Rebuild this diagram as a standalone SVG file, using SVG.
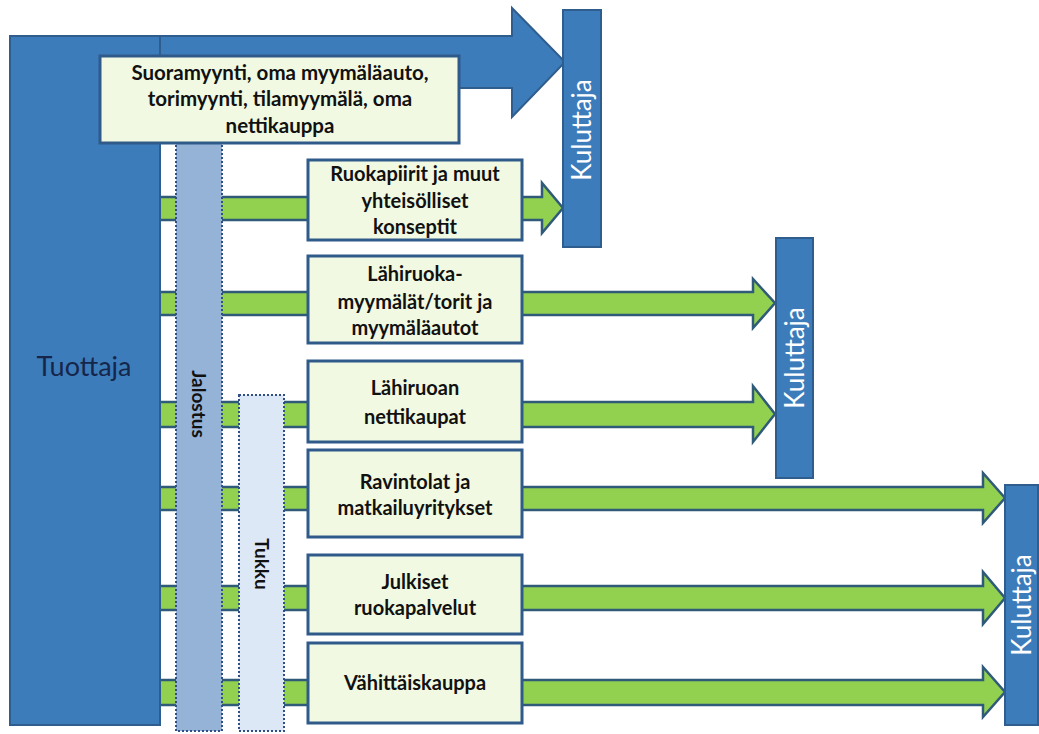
<svg xmlns="http://www.w3.org/2000/svg" width="1039" height="734" viewBox="0 0 1039 734">
<style>
.blue{fill:#3d7cbb;stroke:#2f5e8e;stroke-width:2}
.garrow{fill:#92d050;stroke:#2f5a78;stroke-width:2.5;stroke-linejoin:miter}
.box{fill:#f1f9e2;stroke:#2f5a8a;stroke-width:3}
.bar{stroke:#2f4f86;stroke-width:2;stroke-dasharray:2 2}
.bt{font-family:Lato,"Liberation Sans",sans-serif;font-weight:bold;font-size:20px;fill:#111;text-anchor:middle}
.kt{font-family:Lato,"Liberation Sans",sans-serif;font-size:26px;fill:#fff;text-anchor:middle}
</style>
<rect width="1039" height="734" fill="#fff"/>
<g id="connectors">
<polygon class="blue" points="150,36 512,36 512,8 565,62 512,117 512,88 150,88"/>
<polygon class="garrow" points="150,197 542,197 542,183 563,208 542,233 542,220 150,220"/>
<polygon class="garrow" points="150,292 753,292 753,279 775,303 753,328 753,315 150,315"/>
<polygon class="garrow" points="150,402 753,402 753,386 775,414 753,442 753,427 150,427"/>
<polygon class="garrow" points="150,487 983,487 983,473 1005,498 983,523 983,510 150,510"/>
<polygon class="garrow" points="150,586 983,586 983,572 1005,598 983,624 983,610 150,610"/>
<polygon class="garrow" points="150,680 983,680 983,667 1005,692 983,717 983,705 150,705"/>
</g>
<g id="tuottaja">
<rect class="blue" x="10" y="36" width="150" height="689"/>
<text x="84" y="376" style="font-family:Lato,'Liberation Sans',sans-serif;font-size:27px;fill:#15264a;text-anchor:middle">Tuottaja</text>
</g>
<g id="jalostus">
<rect class="bar" x="176" y="143" width="46" height="588" fill="#95b3d7"/>
<text class="bt" transform="translate(192,404) rotate(90)" style="font-size:19px">Jalostus</text>
</g>
<g id="tukku">
<rect class="bar" x="239" y="395" width="45" height="336" fill="#dce8f6"/>
<text class="bt" transform="translate(255,564) rotate(90)" style="font-size:19px">Tukku</text>
</g>
<g id="suoramyynti">
<rect class="box" x="100" y="56" width="359" height="87"/>
<text class="bt" style="font-size:20.5px"><tspan x="280" y="80">Suoramyynti, oma myymäläauto,</tspan><tspan x="280" y="106">torimyynti, tilamyymälä, oma</tspan><tspan x="280" y="133">nettikauppa</tspan></text>
</g>
<g id="ruokapiirit">
<rect class="box" x="308" y="160" width="214" height="80"/>
<text class="bt"><tspan x="415" y="181">Ruokapiirit ja muut</tspan><tspan x="415" y="208">yhteisölliset</tspan><tspan x="415" y="234">konseptit</tspan></text>
</g>
<g id="lahiruokamyymalat">
<rect class="box" x="308" y="256" width="214" height="87"/>
<text class="bt"><tspan x="415" y="281">Lähiruoka-</tspan><tspan x="415" y="309">myymälät/torit ja</tspan><tspan x="415" y="335">myymäläautot</tspan></text>
</g>
<g id="nettikaupat">
<rect class="box" x="308" y="361" width="214" height="81"/>
<text class="bt"><tspan x="415" y="395">Lähiruoan</tspan><tspan x="415" y="424">nettikaupat</tspan></text>
</g>
<g id="ravintolat">
<rect class="box" x="308" y="450" width="214" height="87"/>
<text class="bt"><tspan x="415" y="489">Ravintolat ja</tspan><tspan x="415" y="515">matkailuyritykset</tspan></text>
</g>
<g id="julkiset">
<rect class="box" x="308" y="555" width="214" height="79"/>
<text class="bt"><tspan x="415" y="589">Julkiset</tspan><tspan x="415" y="615">ruokapalvelut</tspan></text>
</g>
<g id="vahittaiskauppa">
<rect class="box" x="308" y="643" width="214" height="80"/>
<text class="bt" x="415" y="690">Vähittäiskauppa</text>
</g>
<g id="kuluttaja1">
<rect class="blue" x="563" y="10" width="38" height="237"/>
<text class="kt" transform="translate(591,130) rotate(-90)">Kuluttaja</text>
</g>
<g id="kuluttaja2">
<rect class="blue" x="776" y="238" width="37" height="240"/>
<text class="kt" transform="translate(804,358) rotate(-90)">Kuluttaja</text>
</g>
<g id="kuluttaja3">
<rect class="blue" x="1005" y="485" width="33" height="240"/>
<text class="kt" transform="translate(1031,605) rotate(-90)">Kuluttaja</text>
</g>
</svg>
